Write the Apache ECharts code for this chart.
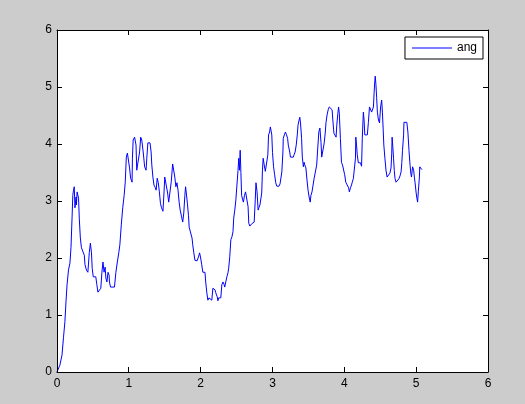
<!DOCTYPE html>
<html>
<head>
<meta charset="utf-8">
<script src="https://cdn.jsdelivr.net/npm/echarts@6/dist/echarts.min.js"></script>
<style>
html,body{margin:0;padding:0;background:#cccccc;}
#wrap{position:relative;width:525px;height:404px;}
#plotbg{position:absolute;left:57px;top:30px;width:431px;height:342px;background:#ffffff;}
#c{position:absolute;left:0;top:0;width:525px;height:404px;}
</style>
</head>
<body>
<div id="wrap"><div id="plotbg"></div><div id="c"></div></div>
<script>
const seriesName = 'ang';
const xTicks = [0, 1, 2, 3, 4, 5, 6];
const yTicks = [0, 1, 2, 3, 4, 5, 6];
const tValues = [0.0,0.02,0.04,0.07,0.09,0.11,0.125,0.14,0.16,0.18,0.195,0.21,0.22,0.23,0.24,0.25,0.265,0.27,0.28,0.3,0.31,0.325,0.34,0.365,0.38,0.39,0.41,0.43,0.45,0.465,0.48,0.49,0.505,0.54,0.555,0.57,0.59,0.61,0.625,0.64,0.655,0.67,0.68,0.695,0.71,0.725,0.73,0.745,0.8,0.82,0.84,0.86,0.875,0.895,0.915,0.935,0.95,0.965,0.98,1.0,1.01,1.025,1.045,1.05,1.06,1.08,1.1,1.11,1.135,1.15,1.165,1.18,1.2,1.22,1.24,1.25,1.265,1.295,1.31,1.32,1.335,1.35,1.37,1.38,1.395,1.41,1.425,1.44,1.455,1.475,1.49,1.5,1.525,1.54,1.555,1.575,1.59,1.61,1.63,1.64,1.655,1.67,1.685,1.7,1.715,1.735,1.75,1.765,1.78,1.79,1.8,1.815,1.83,1.84,1.865,1.88,1.89,1.905,1.92,1.95,1.97,1.985,2.0,2.015,2.03,2.06,2.07,2.085,2.1,2.115,2.13,2.14,2.155,2.17,2.185,2.2,2.21,2.23,2.24,2.25,2.28,2.295,2.31,2.325,2.335,2.35,2.365,2.38,2.39,2.405,2.42,2.435,2.45,2.46,2.475,2.49,2.505,2.52,2.53,2.54,2.55,2.56,2.57,2.585,2.595,2.61,2.625,2.645,2.66,2.67,2.685,2.695,2.71,2.72,2.745,2.76,2.77,2.785,2.8,2.81,2.825,2.84,2.85,2.86,2.87,2.885,2.9,2.92,2.935,2.945,2.96,2.97,2.99,3.0,3.015,3.03,3.045,3.06,3.09,3.105,3.12,3.13,3.145,3.15,3.165,3.18,3.195,3.21,3.22,3.24,3.25,3.29,3.3,3.315,3.33,3.345,3.355,3.37,3.38,3.39,3.405,3.415,3.43,3.44,3.45,3.465,3.48,3.495,3.51,3.525,3.535,3.55,3.565,3.58,3.6,3.615,3.63,3.645,3.66,3.67,3.675,3.685,3.705,3.72,3.735,3.745,3.76,3.775,3.79,3.81,3.83,3.84,3.855,3.87,3.885,3.895,3.91,3.92,3.93,3.935,3.945,3.96,3.975,3.99,4.005,4.02,4.045,4.06,4.07,4.085,4.1,4.11,4.125,4.14,4.155,4.16,4.17,4.18,4.195,4.21,4.225,4.24,4.25,4.265,4.275,4.285,4.32,4.335,4.35,4.365,4.38,4.39,4.405,4.415,4.425,4.43,4.44,4.45,4.46,4.475,4.49,4.495,4.505,4.52,4.53,4.54,4.55,4.565,4.58,4.595,4.62,4.635,4.65,4.66,4.665,4.675,4.685,4.695,4.705,4.72,4.735,4.745,4.76,4.775,4.79,4.8,4.81,4.825,4.83,4.87,4.885,4.9,4.915,4.925,4.935,4.95,4.965,4.975,4.985,5.0,5.01,5.02,5.03,5.045,5.05,5.06,5.08];
const angValues = [0,0.02,0.12,0.3,0.6,0.88,1.23,1.53,1.79,1.91,2.19,2.72,3.1,3.19,3.25,2.88,3.07,2.93,3.16,3.05,2.7,2.35,2.18,2.18,2.05,1.88,1.79,1.75,2.1,2.26,2.09,1.82,1.67,1.67,1.53,1.4,1.4,1.47,1.75,1.93,1.75,1.84,1.65,1.58,1.75,1.7,1.58,1.49,1.49,1.75,1.93,2.09,2.23,2.58,2.88,3.1,3.33,3.77,3.84,3.86,3.58,3.4,3.33,3.75,4.07,4.12,3.98,3.54,3.54,3.86,4.12,4.07,3.86,3.6,3.54,3.75,4.02,4.02,3.86,3.63,3.42,3.28,3.23,3.19,3.4,3.32,3.16,2.96,2.88,2.82,3.16,3.42,3.42,3.14,2.98,2.98,3.33,3.65,3.68,3.42,3.25,3.32,3.19,2.98,2.84,2.72,2.63,2.79,3.1,3.25,3.14,2.96,2.75,2.54,2.52,2.35,2.23,2.09,1.96,1.95,2.02,2.09,2.0,1.88,1.75,1.75,1.58,1.4,1.26,1.3,1.3,1.32,1.26,1.47,1.49,1.44,1.39,1.32,1.25,1.3,1.3,1.53,1.58,1.54,1.49,1.58,1.67,1.74,1.82,2.02,2.32,2.37,2.46,2.7,2.84,3.02,3.28,3.54,3.75,3.54,3.89,3.5,3.1,3.02,2.98,3.1,3.16,3.16,2.9,2.61,2.56,2.54,2.6,2.63,2.63,3.02,3.32,3.16,2.84,2.88,2.93,2.93,3.14,3.54,3.75,3.63,3.52,3.52,3.81,4.16,4.21,4.3,4.16,3.85,3.6,3.46,3.32,3.26,3.26,3.3,3.33,3.51,3.86,4.1,4.16,4.21,4.16,4.1,3.98,3.86,3.77,3.77,3.81,3.86,3.98,4.16,4.33,4.42,4.47,4.37,4.1,3.77,3.6,3.68,3.63,3.58,3.37,3.19,3.07,2.98,3.1,3.16,3.28,3.4,3.42,3.63,3.93,4.21,4.28,4.3,4.03,3.77,3.77,4.02,4.21,4.38,4.51,4.6,4.65,4.65,4.6,4.42,4.19,4.16,4.12,4.33,4.54,4.65,4.54,4.51,4.1,3.68,3.63,3.6,3.46,3.33,3.32,3.23,3.16,3.23,3.28,3.33,3.39,3.4,3.75,4.12,3.98,3.81,3.67,3.7,3.67,3.61,4.1,4.56,4.42,4.16,4.16,4.38,4.65,4.63,4.56,4.54,4.65,4.91,5.12,5.19,5.04,4.81,4.56,4.42,4.37,4.47,4.65,4.77,4.56,4.28,3.98,3.75,3.54,3.42,3.42,3.49,3.58,3.84,4.12,3.95,3.75,3.54,3.4,3.33,3.32,3.33,3.39,3.44,3.51,3.67,3.89,4.16,4.38,4.38,4.21,3.89,3.63,3.49,3.42,3.6,3.54,3.42,3.32,3.14,3.05,2.98,3.16,3.42,3.6,3.58,3.55];

const chart = echarts.init(document.getElementById('c'), null, {renderer: 'canvas'});
const font = 'Liberation Sans, Arial, Helvetica, sans-serif';
const TICK_LEN = 5;
const xMin = xTicks[0], xMax = xTicks[xTicks.length - 1];
const yMin = yTicks[0], yMax = yTicks[yTicks.length - 1];

function frameAxis(ticks, pos, showLabel) {
  return {
    type: 'value', position: pos,
    min: ticks[0], max: ticks[ticks.length - 1], interval: 1,
    splitLine: {show: false},
    axisLine: {show: true, onZero: false, lineStyle: {color: '#000000', width: 1}},
    axisTick: {show: false},
    axisLabel: showLabel
      ? {show: true, color: '#000', fontSize: 12, margin: (pos === 'bottom' ? 6 : 5), fontFamily: font}
      : {show: false}
  };
}
function snap(v) { return Math.round(v) + 0.5; }
function tickLine(x1, y1, x2, y2) {
  return {type: 'line', shape: {x1: x1, y1: y1, x2: x2, y2: y2}, style: {stroke: '#000000', lineWidth: 1}};
}
// inward ticks on bottom/top edges, positioned through the axis scale
function renderXTick(params, api) {
  const b = api.coord([api.value(0), yMin]);
  const t = api.coord([api.value(0), yMax]);
  const x = snap(b[0] - 0.5);
  return {type: 'group', children: [
    tickLine(x, b[1], x, b[1] - TICK_LEN),
    tickLine(x, t[1], x, t[1] + TICK_LEN)
  ]};
}
// inward ticks on left/right edges
function renderYTick(params, api) {
  const l = api.coord([xMin, api.value(1)]);
  const r = api.coord([xMax, api.value(1)]);
  const y = snap(l[1] - 0.5);
  return {type: 'group', children: [
    tickLine(l[0], y, l[0] + TICK_LEN, y),
    tickLine(r[0], y, r[0] - TICK_LEN, y)
  ]};
}

chart.setOption({
  backgroundColor: 'transparent',
  animation: false,
  textStyle: {fontFamily: font},
  grid: {left: 57, top: 30, right: 37, bottom: 32, show: false},
  legend: {
    data: [{name: seriesName, icon: 'path://M0,0 L40,0 L40,1 L0,1 Z'}],
    right: 42, top: 37,
    orient: 'horizontal',
    backgroundColor: '#ffffff',
    borderColor: '#000', borderWidth: 1, borderRadius: 0,
    padding: [5, 6, 5, 7],
    itemWidth: 40, itemHeight: 1, itemGap: 5,
    itemStyle: {color: '#0000ff', borderWidth: 0},
    textStyle: {color: '#000', fontSize: 12, fontFamily: font, padding: [0, 0, 0, 0]}
  },
  xAxis: [frameAxis(xTicks, 'bottom', true), frameAxis(xTicks, 'top', false)],
  yAxis: [frameAxis(yTicks, 'left', true), frameAxis(yTicks, 'right', false)],
  series: [
    {
      name: seriesName,
      type: 'line',
      xAxisIndex: 0, yAxisIndex: 0,
      data: tValues.map((t, i) => [t, angValues[i]]),
      symbol: 'none',
      showSymbol: false,
      lineStyle: {color: '#0000ff', width: 1},
      itemStyle: {color: '#0000ff'},
      z: 2
    },
    {
      name: 'xticks', type: 'custom', xAxisIndex: 0, yAxisIndex: 0,
      silent: true, clip: false, z: 5,
      data: xTicks.map(v => [v, yMin]),
      encode: {x: 0, y: 1},
      renderItem: renderXTick
    },
    {
      name: 'yticks', type: 'custom', xAxisIndex: 0, yAxisIndex: 0,
      silent: true, clip: false, z: 5,
      data: yTicks.map(v => [xMin, v]),
      encode: {x: 0, y: 1},
      renderItem: renderYTick
    }
  ]
});
</script>
</body>
</html>
